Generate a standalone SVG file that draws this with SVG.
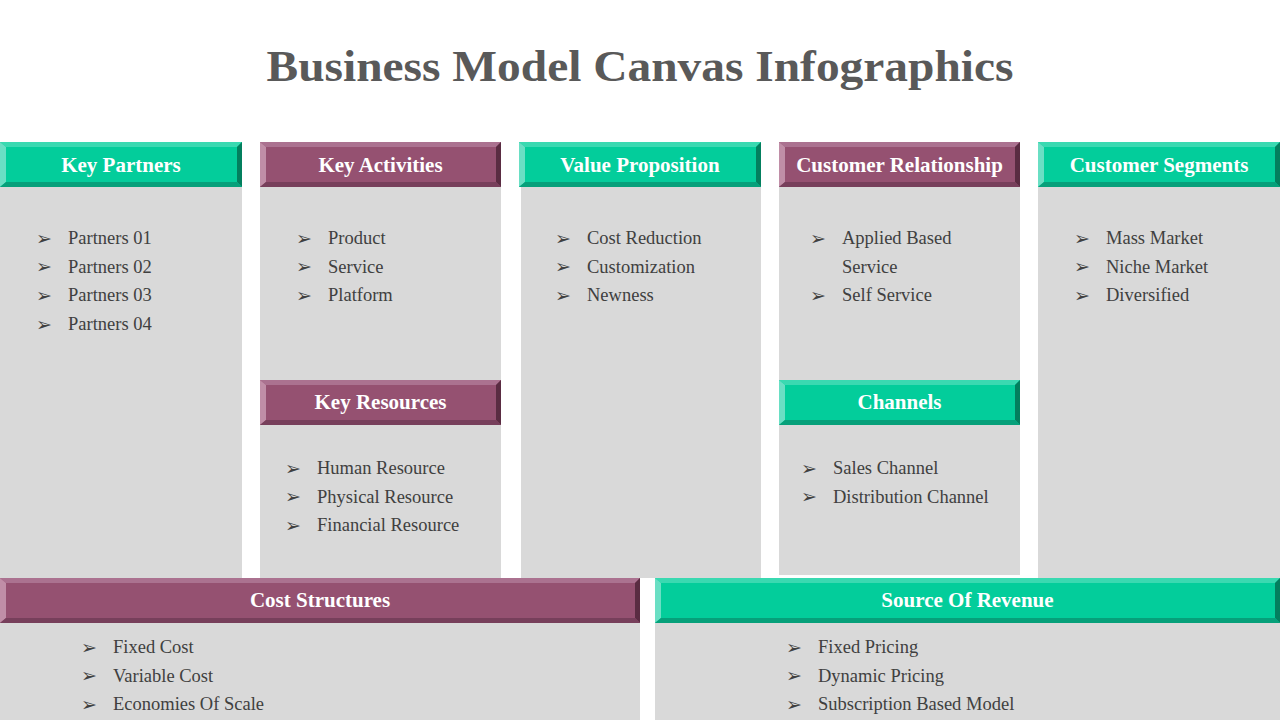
<svg xmlns="http://www.w3.org/2000/svg" width="1280" height="720" viewBox="0 0 1280 720">
<style>
.bg{fill:#D9D9D9}
.title{font-family:"Liberation Serif","DejaVu Serif",serif;font-weight:bold;font-size:45px;fill:#595959}
.hd{font-family:"Liberation Serif","DejaVu Serif",serif;font-weight:bold;font-size:21px;fill:#FFFFFF;text-anchor:middle}
.tx{font-family:"Liberation Serif","DejaVu Serif",serif;font-size:18.5px;fill:#404040}
.bl{font-family:"DejaVu Sans",sans-serif;font-size:19px;fill:#404040}
.g-main{fill:#03CD9B}.g-top{fill:#3AD9B1}.g-left{fill:#6ADFC4}.g-right{fill:#037F5E}.g-bot{fill:#06A07A}
.p-main{fill:#955171}.p-top{fill:#AB7290}.p-left{fill:#C08EA7}.p-right{fill:#5A2C42}.p-bot{fill:#773F5B}
</style>
<rect width="1280" height="720" fill="#FFFFFF"/>
<text class="title" x="640" y="81" text-anchor="middle" textLength="747" lengthAdjust="spacingAndGlyphs">Business Model Canvas Infographics</text>

<g id="panels">
<rect class="bg" x="0" y="142" width="242" height="436"/>
<rect class="bg" x="260" y="142" width="241" height="436"/>
<rect class="bg" x="521" y="142" width="240" height="436"/>
<rect class="bg" x="779" y="142" width="241" height="433"/>
<rect class="bg" x="1038" y="142" width="242" height="436"/>
<rect class="bg" x="0" y="578" width="640" height="142"/>
<rect class="bg" x="655" y="578" width="625" height="142"/>
</g>

<!-- Key Partners -->
<g id="key-partners">
<rect class="g-main" x="0" y="142" width="242" height="45"/>
<polygon class="g-top" points="0,142 242,142 237,147 6,147"/>
<polygon class="g-left" points="0,142 6,147 6,182 0,187"/>
<polygon class="g-right" points="242,142 242,187 237,182 237,147"/>
<polygon class="g-bot" points="0,187 242,187 237,182 6,182"/>
<text class="hd" x="121" y="172">Key Partners</text>
<text class="bl" x="36" y="245">➢</text><text class="tx" x="68" y="244">Partners 01</text>
<text class="bl" x="36" y="273">➢</text><text class="tx" x="68" y="272.5">Partners 02</text>
<text class="bl" x="36" y="302">➢</text><text class="tx" x="68" y="301">Partners 03</text>
<text class="bl" x="36" y="331">➢</text><text class="tx" x="68" y="329.5">Partners 04</text>
</g>

<!-- Key Activities -->
<g id="key-activities">
<rect class="p-main" x="260" y="142" width="241" height="45"/>
<polygon class="p-top" points="260,142 501,142 496,147 266,147"/>
<polygon class="p-left" points="260,142 266,147 266,182 260,187"/>
<polygon class="p-right" points="501,142 501,187 496,182 496,147"/>
<polygon class="p-bot" points="260,187 501,187 496,182 266,182"/>
<text class="hd" x="380.5" y="172">Key Activities</text>
<text class="bl" x="296" y="245">➢</text><text class="tx" x="328" y="244">Product</text>
<text class="bl" x="296" y="273">➢</text><text class="tx" x="328" y="272.5">Service</text>
<text class="bl" x="296" y="302">➢</text><text class="tx" x="328" y="301">Platform</text>
</g>

<!-- Key Resources -->
<g id="key-resources">
<rect class="p-main" x="260" y="380" width="241" height="45"/>
<polygon class="p-top" points="260,380 501,380 496,385 266,385"/>
<polygon class="p-left" points="260,380 266,385 266,420 260,425"/>
<polygon class="p-right" points="501,380 501,425 496,420 496,385"/>
<polygon class="p-bot" points="260,425 501,425 496,420 266,420"/>
<text class="hd" x="380.5" y="409">Key Resources</text>
<text class="bl" x="285" y="475">➢</text><text class="tx" x="317" y="474">Human Resource</text>
<text class="bl" x="285" y="503">➢</text><text class="tx" x="317" y="502.5">Physical Resource</text>
<text class="bl" x="285" y="532">➢</text><text class="tx" x="317" y="531">Financial Resource</text>
</g>

<!-- Value Proposition -->
<g id="value-proposition">
<rect class="g-main" x="519" y="142" width="242" height="45"/>
<polygon class="g-top" points="519,142 761,142 756,147 525,147"/>
<polygon class="g-left" points="519,142 525,147 525,182 519,187"/>
<polygon class="g-right" points="761,142 761,187 756,182 756,147"/>
<polygon class="g-bot" points="519,187 761,187 756,182 525,182"/>
<text class="hd" x="640" y="172">Value Proposition</text>
<text class="bl" x="555" y="245">➢</text><text class="tx" x="587" y="244">Cost Reduction</text>
<text class="bl" x="555" y="273">➢</text><text class="tx" x="587" y="272.5">Customization</text>
<text class="bl" x="555" y="302">➢</text><text class="tx" x="587" y="301">Newness</text>
</g>

<!-- Customer Relationship -->
<g id="customer-relationship">
<rect class="p-main" x="779" y="142" width="241" height="45"/>
<polygon class="p-top" points="779,142 1020,142 1015,147 785,147"/>
<polygon class="p-left" points="779,142 785,147 785,182 779,187"/>
<polygon class="p-right" points="1020,142 1020,187 1015,182 1015,147"/>
<polygon class="p-bot" points="779,187 1020,187 1015,182 785,182"/>
<text class="hd" x="899.5" y="172">Customer Relationship</text>
<text class="bl" x="810" y="245">➢</text><text class="tx" x="842" y="244">Applied Based</text>
<text class="tx" x="842" y="272.5">Service</text>
<text class="bl" x="810" y="302">➢</text><text class="tx" x="842" y="301">Self Service</text>
</g>

<!-- Channels -->
<g id="channels">
<rect class="g-main" x="779" y="380" width="241" height="45"/>
<polygon class="g-top" points="779,380 1020,380 1015,385 785,385"/>
<polygon class="g-left" points="779,380 785,385 785,420 779,425"/>
<polygon class="g-right" points="1020,380 1020,425 1015,420 1015,385"/>
<polygon class="g-bot" points="779,425 1020,425 1015,420 785,420"/>
<text class="hd" x="899.5" y="409">Channels</text>
<text class="bl" x="801" y="475">➢</text><text class="tx" x="833" y="474">Sales Channel</text>
<text class="bl" x="801" y="503">➢</text><text class="tx" x="833" y="502.5">Distribution Channel</text>
</g>

<!-- Customer Segments -->
<g id="customer-segments">
<rect class="g-main" x="1038" y="142" width="242" height="45"/>
<polygon class="g-top" points="1038,142 1280,142 1275,147 1044,147"/>
<polygon class="g-left" points="1038,142 1044,147 1044,182 1038,187"/>
<polygon class="g-right" points="1280,142 1280,187 1275,182 1275,147"/>
<polygon class="g-bot" points="1038,187 1280,187 1275,182 1044,182"/>
<text class="hd" x="1159" y="172">Customer Segments</text>
<text class="bl" x="1074" y="245">➢</text><text class="tx" x="1106" y="244">Mass Market</text>
<text class="bl" x="1074" y="273">➢</text><text class="tx" x="1106" y="272.5">Niche Market</text>
<text class="bl" x="1074" y="302">➢</text><text class="tx" x="1106" y="301">Diversified</text>
</g>

<!-- Cost Structures -->
<g id="cost-structures">
<rect class="p-main" x="0" y="578" width="640" height="45"/>
<polygon class="p-top" points="0,578 640,578 635,583 6,583"/>
<polygon class="p-left" points="0,578 6,583 6,618 0,623"/>
<polygon class="p-right" points="640,578 640,623 635,618 635,583"/>
<polygon class="p-bot" points="0,623 640,623 635,618 6,618"/>
<text class="hd" x="320" y="607">Cost Structures</text>
<text class="bl" x="81" y="654">➢</text><text class="tx" x="113" y="653">Fixed Cost</text>
<text class="bl" x="81" y="682">➢</text><text class="tx" x="113" y="681.5">Variable Cost</text>
<text class="bl" x="81" y="711">➢</text><text class="tx" x="113" y="710">Economies Of Scale</text>
</g>

<!-- Source Of Revenue -->
<g id="source-of-revenue">
<rect class="g-main" x="655" y="578" width="625" height="45"/>
<polygon class="g-top" points="655,578 1280,578 1275,583 661,583"/>
<polygon class="g-left" points="655,578 661,583 661,618 655,623"/>
<polygon class="g-right" points="1280,578 1280,623 1275,618 1275,583"/>
<polygon class="g-bot" points="655,623 1280,623 1275,618 661,618"/>
<text class="hd" x="967.5" y="607">Source Of Revenue</text>
<text class="bl" x="786" y="654">➢</text><text class="tx" x="818" y="653">Fixed Pricing</text>
<text class="bl" x="786" y="682">➢</text><text class="tx" x="818" y="681.5">Dynamic Pricing</text>
<text class="bl" x="786" y="711">➢</text><text class="tx" x="818" y="710">Subscription Based Model</text>
</g>

<g id="connectors"/>
</svg>
